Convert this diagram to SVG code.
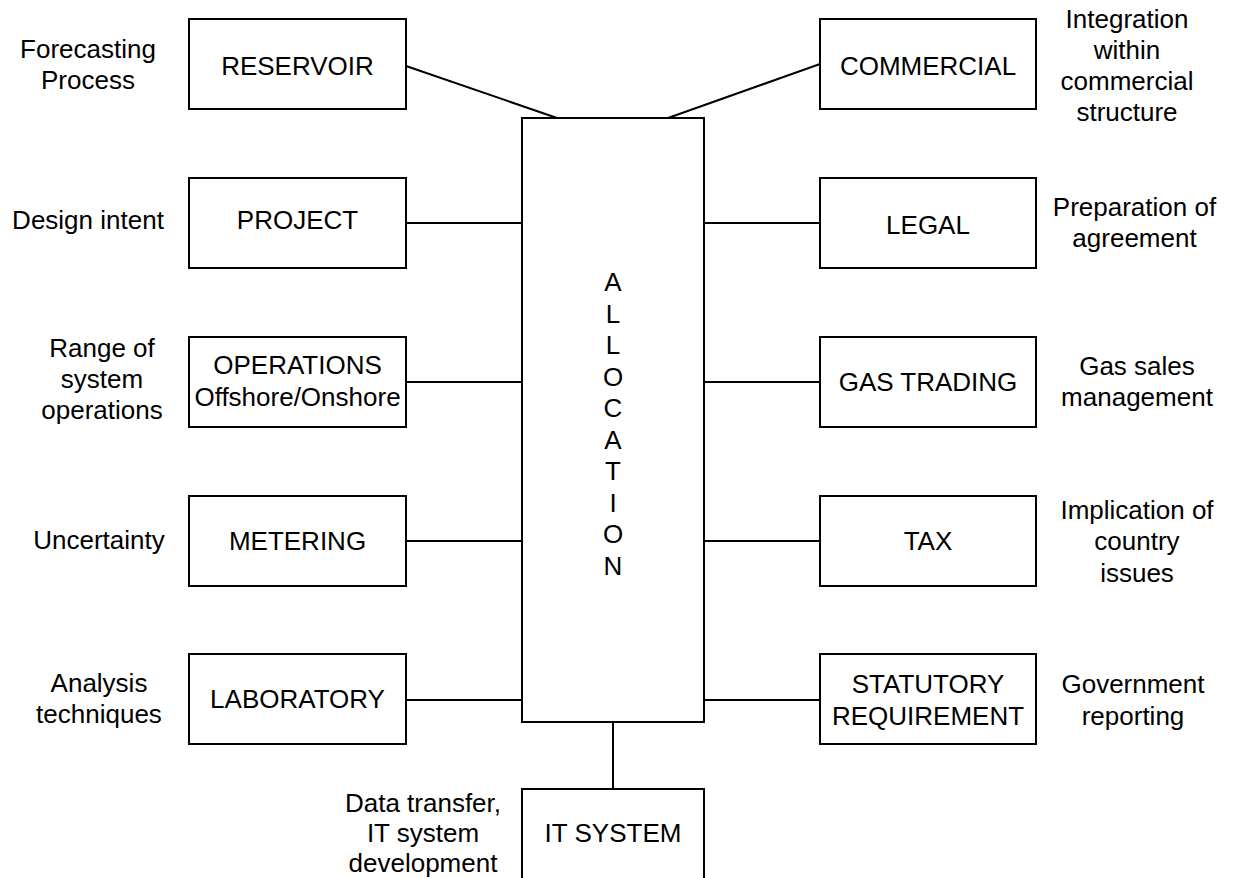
<svg xmlns="http://www.w3.org/2000/svg" width="1241" height="878" viewBox="0 0 1241 878">
<style>
  .box { fill: #ffffff; stroke: #000000; stroke-width: 2; }
  .conn { fill: none; stroke: #000000; stroke-width: 2; }
  text { font-family: "Liberation Sans", Arial, sans-serif; font-size: 26px; fill: #000000; text-anchor: middle; }
</style>
<rect x="0" y="0" width="1241" height="878" fill="#ffffff"/>
<g id="connectors">
  <line class="conn" x1="406" y1="66" x2="557" y2="118"/>
  <line class="conn" x1="820" y1="64" x2="668" y2="118"/>
  <line class="conn" x1="407" y1="223" x2="522" y2="223"/>
  <line class="conn" x1="407" y1="382" x2="522" y2="382"/>
  <line class="conn" x1="407" y1="541" x2="522" y2="541"/>
  <line class="conn" x1="407" y1="700" x2="522" y2="700"/>
  <line class="conn" x1="704" y1="223" x2="820" y2="223"/>
  <line class="conn" x1="704" y1="382" x2="820" y2="382"/>
  <line class="conn" x1="704" y1="541" x2="820" y2="541"/>
  <line class="conn" x1="704" y1="700" x2="820" y2="700"/>
  <line class="conn" x1="613" y1="722" x2="613" y2="789"/>
</g>
<g id="allocation">
  <rect class="box" x="522" y="118" width="182" height="604"/>
  <text x="613" y="291">A</text>
  <text x="613" y="322.5">L</text>
  <text x="613" y="354">L</text>
  <text x="613" y="385.5">O</text>
  <text x="613" y="417">C</text>
  <text x="613" y="448.5">A</text>
  <text x="613" y="480">T</text>
  <text x="613" y="511.5">I</text>
  <text x="613" y="543">O</text>
  <text x="613" y="574.5">N</text>
</g>
<g id="reservoir">
  <rect class="box" x="189" y="19" width="217" height="90"/>
  <text x="297.5" y="74.5">RESERVOIR</text>
  <text x="88" y="58">Forecasting</text>
  <text x="88" y="89">Process</text>
</g>
<g id="project">
  <rect class="box" x="189" y="178" width="217" height="90"/>
  <text x="297.5" y="228.5">PROJECT</text>
  <text x="88" y="229">Design intent</text>
</g>
<g id="operations">
  <rect class="box" x="189" y="337" width="217" height="90"/>
  <text x="297.5" y="374">OPERATIONS</text>
  <text x="297.5" y="406">Offshore/Onshore</text>
  <text x="102" y="357">Range of</text>
  <text x="102" y="388">system</text>
  <text x="102" y="419">operations</text>
</g>
<g id="metering">
  <rect class="box" x="189" y="496" width="217" height="90"/>
  <text x="297.5" y="550">METERING</text>
  <text x="99" y="549">Uncertainty</text>
</g>
<g id="laboratory">
  <rect class="box" x="189" y="654" width="217" height="90"/>
  <text x="297.5" y="708">LABORATORY</text>
  <text x="99" y="692">Analysis</text>
  <text x="99" y="723">techniques</text>
</g>
<g id="commercial">
  <rect class="box" x="820" y="19" width="216" height="90"/>
  <text x="928" y="74.5">COMMERCIAL</text>
  <text x="1127" y="27.5">Integration</text>
  <text x="1127" y="58.5">within</text>
  <text x="1127" y="89.5">commercial</text>
  <text x="1127" y="120.5">structure</text>
</g>
<g id="legal">
  <rect class="box" x="820" y="178" width="216" height="90"/>
  <text x="928" y="233.5">LEGAL</text>
  <text x="1134.5" y="216">Preparation of</text>
  <text x="1134.5" y="247">agreement</text>
</g>
<g id="gas-trading">
  <rect class="box" x="820" y="337" width="216" height="90"/>
  <text x="928" y="391">GAS TRADING</text>
  <text x="1137" y="375">Gas sales</text>
  <text x="1137" y="406">management</text>
</g>
<g id="tax">
  <rect class="box" x="820" y="496" width="216" height="90"/>
  <text x="928" y="550">TAX</text>
  <text x="1137" y="519">Implication of</text>
  <text x="1137" y="550">country</text>
  <text x="1137" y="582">issues</text>
</g>
<g id="statutory">
  <rect class="box" x="820" y="654" width="216" height="90"/>
  <text x="928" y="693">STATUTORY</text>
  <text x="928" y="725">REQUIREMENT</text>
  <text x="1133" y="693">Government</text>
  <text x="1133" y="725">reporting</text>
</g>
<g id="it-system">
  <rect class="box" x="522" y="789" width="182" height="100"/>
  <text x="613" y="842">IT SYSTEM</text>
  <text x="423" y="812">Data transfer,</text>
  <text x="423" y="842">IT system</text>
  <text x="423" y="872">development</text>
</g>
</svg>
